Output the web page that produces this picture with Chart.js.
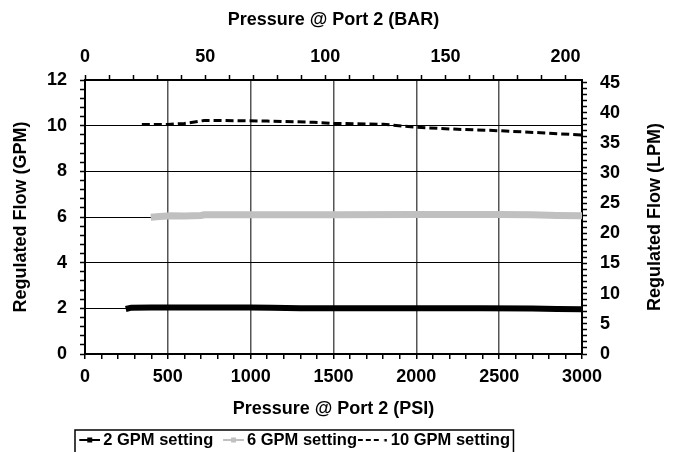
<!DOCTYPE html>
<html>
<head>
<meta charset="utf-8">
<script src="https://cdn.jsdelivr.net/npm/chart.js@4/dist/chart.umd.min.js"></script>
<style>
  html, body { margin: 0; padding: 0; background: #fff; }
</style>
</head>
<body>
<canvas id="flowChart" width="675" height="452"></canvas>
<script>
// data: pressure in PSI, flow in GPM
const psi2   = [246, 280, 400, 600, 800, 1000, 1130, 1300, 1500, 1800, 2100, 2400, 2700, 2850, 3000];
const flow2  = [1.97, 2.03, 2.04, 2.04, 2.04, 2.04, 2.03, 2.00, 2.00, 2.00, 2.00, 2.00, 1.99, 1.97, 1.96];

const psi6   = [397, 450, 520, 600, 700, 720, 1000, 1500, 2000, 2500, 2700, 2850, 3000];
const flow6  = [5.99, 6.02, 6.05, 6.04, 6.07, 6.10, 6.10, 6.10, 6.11, 6.11, 6.10, 6.07, 6.06];

const psi10  = [343, 500, 600, 680, 720, 900, 1100, 1380, 1500, 1800, 2000, 2250, 2500, 2750, 3000];
const flow10 = [10.05, 10.05, 10.10, 10.18, 10.23, 10.22, 10.20, 10.15, 10.10, 10.06, 9.93, 9.84, 9.78, 9.69, 9.59];

const seriesNames = ['2 GPM setting', '6 GPM setting', '10 GPM setting'];
const rightTitle = 'Regulated Flow (LPM)';

// axis steps: [minor tick, labelled tick]
const psiSteps = [100, 500];
const barSteps = [10, 50];
const gpmSteps = [0.4, 2];
const lpmSteps = [1, 5];

const PSI_MAX = 3000;
const GPM_MAX = 12;
const LPM_TOP_TICK = 45;
const PSI_PER_BAR = 14.5038;
const LPM_PER_GPM = 3.78541;

const FONT = { family: 'Liberation Sans', size: 18, weight: 'bold' };
const LEGEND_FONT = { family: 'Liberation Sans', size: 16.5, weight: 'bold' };

function pairs(xs, ys) {
  return xs.map((x, i) => ({ x: x, y: ys[i] }));
}

function isMult(v, step) {
  const r = v / step;
  return Math.abs(r - Math.round(r)) < 1e-6;
}

function stepTicks(max, step) {
  const out = [];
  for (let i = 0; i * step <= max + 1e-9; i++) {
    out.push({ value: Math.round(i * step * 1000) / 1000 });
  }
  return out;
}

// legend samples, line + marker like the spreadsheet legend
function legendIcon(kind) {
  const c = document.createElement('canvas');
  c.width = 30; c.height = 10;
  const g = c.getContext('2d');
  if (kind < 2) {
    const col = kind === 0 ? '#000000' : '#c0c0c0';
    g.strokeStyle = col; g.fillStyle = col; g.lineWidth = 2;
    g.beginPath(); g.moveTo(9, 5); g.lineTo(30, 5); g.stroke();
    g.fillRect(17, 2.5, 5, 5);
  } else {
    g.strokeStyle = '#000'; g.fillStyle = '#000'; g.lineWidth = 2;
    g.setLineDash([5, 3]);
    g.beginPath(); g.moveTo(0, 5); g.lineTo(24, 5); g.stroke();
    g.fillRect(26.5, 4, 2.5, 2.5);
  }
  return c;
}
const icons = [legendIcon(0), legendIcon(1), legendIcon(2)];

function minorMajorAxis(steps, max, opts) {
  return Object.assign({
    type: 'linear',
    min: 0,
    max: max,
    afterBuildTicks: s => { s.ticks = stepTicks(max, steps[0]); },
    ticks: {
      autoSkip: false,
      maxRotation: 0,
      color: '#000',
      font: FONT,
      padding: 7,
      callback: v => isMult(v, steps[1]) ? String(Math.round(v)) : ''
    },
    border: { display: true, color: '#000', width: 2 },
    grid: {
      drawOnChartArea: false,
      tickLength: 5,
      tickColor: '#000',
      tickWidth: 1.5,
      lineWidth: 1
    }
  }, opts);
}

// legend sits left of centre in the original, with a frame round it
const legendPlace = {
  id: 'legendPlace',
  afterLayout(chart) {
    if (chart.legend) chart.legend.left = 69.5;
  },
  afterDraw(chart) {
    const hb = chart.legend && chart.legend.legendHitBoxes;
    const ctx = chart.ctx;
    if (hb && hb.length) {
      const last = hb[hb.length - 1];
      const left = hb[0].left - 0.5;
      const right = last.left + last.width + 3.5;
      const top = hb[0].top + hb[0].height / 2 - 10;
      ctx.save();
      ctx.strokeStyle = '#000';
      ctx.lineWidth = 1.5;
      ctx.strokeRect(left, top, right - left, 60);
      ctx.restore();
    }
    // right axis title reads bottom-to-top like the left one
    const y2 = chart.scales.y2;
    ctx.save();
    ctx.translate(y2.right - 20, (y2.top + y2.bottom) / 2);
    ctx.rotate(-Math.PI / 2);
    ctx.fillStyle = '#000';
    ctx.font = 'bold 18px "Liberation Sans"';
    ctx.textAlign = 'center';
    ctx.textBaseline = 'middle';
    ctx.fillText(rightTitle, 0, 0);
    ctx.restore();
  }
};

const xBottom = minorMajorAxis(psiSteps, PSI_MAX, {
  position: 'bottom',
  afterFit: s => { s.height = 452 + 6.25 - s.chart.legend.height - 354; },
  title: { display: true, text: 'Pressure @ Port 2 (PSI)', color: '#000', font: FONT, padding: { top: 0, bottom: 6 } }
});
xBottom.grid = Object.assign({}, xBottom.grid, {
  drawOnChartArea: true,
  lineWidth: 1.5,
  color: c => (c.tick && c.tick.value > 0 && c.tick.value < PSI_MAX && isMult(c.tick.value, psiSteps[1])) ? '#555555' : 'rgba(0,0,0,0)'
});

const xTop = minorMajorAxis(barSteps, PSI_MAX / PSI_PER_BAR, {
  position: 'top',
  afterFit: s => { s.height = 80; },
  title: { display: true, text: 'Pressure @ Port 2 (BAR)', color: '#000', font: FONT, padding: { top: 9.2, bottom: 0 } }
});

const yLeft = minorMajorAxis(gpmSteps, GPM_MAX, {
  position: 'left',
  afterFit: s => { s.width = 85; },
  title: { display: true, text: 'Regulated Flow (GPM)', color: '#000', font: FONT, padding: { top: 10.2, bottom: 0 } }
});
yLeft.ticks = Object.assign({}, yLeft.ticks, { padding: 13 });
yLeft.grid = Object.assign({}, yLeft.grid, {
  drawOnChartArea: true,
  lineWidth: 1,
  color: c => (c.tick && c.tick.value > 0 && c.tick.value < GPM_MAX && isMult(c.tick.value, gpmSteps[1])) ? '#000000' : 'rgba(0,0,0,0)'
});

const yRight = minorMajorAxis(lpmSteps, GPM_MAX * LPM_PER_GPM, {
  position: 'right',
  afterFit: s => { s.width = 93; },
  afterBuildTicks: s => { s.ticks = stepTicks(LPM_TOP_TICK, lpmSteps[0]); }
});
yRight.ticks = Object.assign({}, yRight.ticks, { padding: 13 });

new Chart(document.getElementById('flowChart'), {
  type: 'line',
  data: {
    datasets: [
      { label: seriesNames[0], data: pairs(psi2, flow2), borderColor: '#000000', borderWidth: 6, xAxisID: 'x', yAxisID: 'y' },
      { label: seriesNames[1], data: pairs(psi6, flow6), borderColor: '#c0c0c0', borderWidth: 7, xAxisID: 'x', yAxisID: 'y' },
      { label: seriesNames[2], data: pairs(psi10, flow10), borderColor: '#000000', borderWidth: 3, borderDash: [8, 4], xAxisID: 'x', yAxisID: 'y' }
    ]
  },
  options: {
    responsive: false,
    animation: false,
    devicePixelRatio: 1,
    layout: { padding: { left: 0, right: 0, top: 0, bottom: -6.25 } },
    elements: {
      point: { radius: 0, hoverRadius: 0 },
      line: { tension: 0, fill: false, borderCapStyle: 'butt' }
    },
    scales: { x: xBottom, x2: xTop, y: yLeft, y2: yRight },
    plugins: {
      tooltip: { enabled: false },
      legend: {
        position: 'bottom',
        align: 'start',
        labels: {
          usePointStyle: true,
          pointStyleWidth: 19.5,
          boxHeight: 10,
          padding: 6,
          color: '#000',
          font: LEGEND_FONT,
          generateLabels: chart => chart.data.datasets.map((ds, i) => ({
            text: ds.label,
            pointStyle: icons[i],
            fillStyle: ds.borderColor,
            strokeStyle: ds.borderColor,
            fontColor: '#000',
            lineWidth: 0,
            hidden: false,
            datasetIndex: i
          }))
        }
      }
    }
  },
  plugins: [legendPlace]
});
</script>
</body>
</html>
